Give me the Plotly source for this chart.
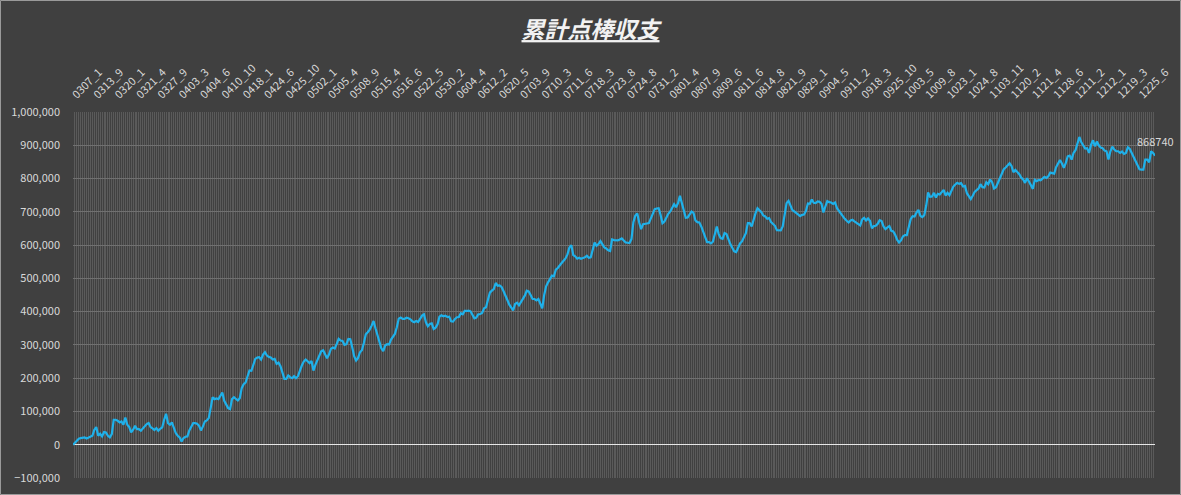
import plotly.graph_objects as go

# x-axis tick labels (every 11th game)
tick_labels = [
    "0307_1", "0313_9", "0320_1", "0321_4", "0327_9", "0403_3", "0404_6", "0410_10",
    "0418_1", "0424_6", "0425_10", "0502_1", "0505_4", "0508_9", "0515_4", "0516_6",
    "0522_5", "0530_2", "0604_4", "0612_2", "0620_5", "0703_9", "0710_3", "0711_6",
    "0718_3", "0723_8", "0724_8", "0731_2", "0801_4", "0807_9", "0809_6", "0811_6",
    "0814_8", "0821_9", "0829_1", "0904_5", "0911_2", "0918_3", "0925_10", "1003_5",
    "1009_8", "1023_1", "1024_8", "1103_11", "1120_2", "1121_4", "1128_6", "1211_2",
    "1212_1", "1219_3", "1225_6",
]
label_step = 11

# cumulative balance
cumulative = [
    0, 7000, 13000, 18000, 20000, 21000, 22000, 19000, 22000, 23000,
    27000, 45000, 53000, 27000, 33000, 25000, 38000, 37000, 27000, 22000,
    32000, 75000, 75000, 72000, 67000, 70000, 60000, 82000, 60000, 53000,
    37000, 45000, 57000, 47000, 47000, 42000, 49000, 55000, 62000, 65000,
    53000, 49000, 44000, 50000, 42000, 48000, 52000, 75000, 93000, 65000,
    60000, 67000, 47000, 35000, 27000, 22000, 10000, 20000, 24000, 25000,
    43000, 55000, 65000, 65000, 63000, 57000, 43000, 55000, 70000, 73000,
    80000, 110000, 143000, 137000, 139000, 137000, 148000, 157000, 132000, 122000,
    110000, 107000, 137000, 143000, 139000, 133000, 140000, 170000, 182000, 187000,
    205000, 223000, 222000, 240000, 258000, 262000,
    263000, 256000, 271000, 278000, 268000, 264000, 262000, 256000, 258000, 243000,
    247000, 236000, 218000, 198000, 198000, 208000, 203000, 200000, 206000, 200000,
    206000, 226000, 238000, 250000, 256000, 251000, 245000, 252000, 223000, 240000,
    253000, 268000, 281000, 284000, 273000, 260000, 271000, 288000, 292000, 289000,
    303000, 318000, 313000, 312000, 300000, 302000, 318000, 317000, 293000, 266000,
    253000, 261000, 278000, 284000, 306000, 332000, 338000, 346000, 358000, 372000,
    350000, 330000, 308000, 290000, 281000, 298000, 302000, 301000, 316000, 326000,
    333000, 353000, 379000, 382000, 378000, 378000, 382000, 380000, 377000, 371000,
    368000, 372000, 369000, 378000, 388000, 392000, 368000, 356000, 363000, 365000,
    348000, 352000, 362000, 385000,
    389000, 386000, 388000, 384000, 385000, 371000, 370000, 378000, 383000, 384000,
    395000, 392000, 402000, 402000, 403000, 401000, 388000, 380000, 382000, 392000,
    393000, 396000, 410000, 413000, 436000, 457000, 463000, 468000, 486000, 478000,
    479000, 474000, 462000, 446000, 435000, 421000, 411000, 404000, 423000, 427000,
    419000, 428000, 440000, 448000, 463000, 461000, 450000, 438000, 438000, 434000,
    438000, 421000, 410000, 450000, 476000, 488000, 498000, 508000, 506000, 526000,
    531000, 537000, 546000, 553000, 560000, 572000, 593000, 600000, 570000, 566000,
    559000, 562000, 559000, 561000, 563000, 568000, 562000, 563000, 588000, 608000,
    598000, 603000, 612000, 600000, 593000, 590000, 584000,
    582000, 617000, 615000, 615000, 614000, 617000, 620000, 614000, 608000, 607000,
    606000, 618000, 669000, 689000, 695000, 668000, 648000, 663000, 665000, 665000,
    666000, 680000, 699000, 708000, 710000, 711000, 691000, 666000, 671000, 684000,
    694000, 701000, 713000, 723000, 714000, 726000, 748000, 726000, 699000, 682000,
    683000, 694000, 701000, 697000, 674000, 669000, 668000, 656000, 638000, 620000,
    609000, 609000, 605000, 610000, 634000, 656000, 633000, 621000, 619000, 636000,
    633000, 615000, 603000, 592000, 581000, 579000, 593000, 605000, 611000, 624000,
    636000, 666000, 666000, 656000, 679000, 696000, 711000, 706000, 699000, 689000,
    686000, 679000, 681000, 669000, 662000, 658000, 645000, 644000, 644000, 656000,
    697000, 726000, 733000, 716000, 705000, 701000, 697000, 693000, 687000,
    691000, 692000, 703000, 725000, 724000, 737000, 727000, 726000, 731000, 730000,
    724000, 698000, 716000, 732000, 729000, 728000, 724000, 728000, 711000, 702000,
    696000, 686000, 679000, 673000, 668000, 674000, 676000, 671000, 668000, 663000,
    659000, 677000, 682000, 674000, 680000, 673000, 651000, 657000, 658000, 664000,
    675000, 672000, 656000, 648000, 653000, 657000, 643000, 641000, 631000, 616000,
    608000, 614000, 626000, 630000, 630000, 653000, 678000, 687000, 686000, 698000,
    706000, 688000, 684000, 690000, 718000, 758000, 745000, 746000, 757000, 743000,
    754000, 752000, 758000, 766000, 749000, 757000, 750000, 766000, 776000, 782000,
    787000, 784000, 786000, 776000, 778000, 756000, 748000, 738000, 748000, 760000,
    765000, 770000,
    783000, 774000, 773000, 789000, 783000, 797000, 789000, 770000, 774000, 789000,
    801000, 817000, 828000, 833000, 840000, 846000, 838000, 819000, 826000, 820000,
    813000, 803000, 797000, 787000, 801000, 791000, 779000, 769000, 796000, 792000,
    796000, 795000, 800000, 805000, 802000, 807000, 818000, 817000, 815000, 834000,
    845000, 856000, 845000, 832000, 847000, 867000, 869000, 857000, 877000, 885000,
    905000, 925000, 909000, 899000, 890000, 891000, 877000, 901000, 915000, 897000,
    911000, 900000, 893000, 891000, 884000, 882000, 857000, 882000, 896000, 887000,
    882000, 882000, 877000, 881000, 874000, 877000, 894000, 889000, 877000, 867000,
    850000, 840000, 828000, 827000, 827000, 857000, 857000, 849000, 882000, 877000,
    868740,
]

y_ticks = [-100000, 0, 100000, 200000, 300000, 400000, 500000, 600000, 700000, 800000, 900000, 1000000]

games = list(range(len(cumulative)))
tick_positions = [k * label_step for k in range(len(tick_labels))]

FONT = "Noto Sans CJK JP, Noto Sans, sans-serif"
TXT = "#d9d9d9"

fig = go.Figure()
fig.add_trace(go.Scatter(
    x=games, y=cumulative, mode="lines",
    line=dict(color="#1fb1ea", width=2.2),
    hoverinfo="skip", showlegend=False,
))

last_x = games[-1]
last_y = cumulative[-1]
fig.add_annotation(
    x=last_x, y=last_y, text=str(last_y), showarrow=False,
    yshift=15, xanchor="center",
    font=dict(family=FONT, size=11, color=TXT),
)

W, H = 1181, 495
ML, MR, MT, MB = 73, 26, 112, 17
PW, PH = W - ML - MR, H - MT - MB
fig.add_shape(
    type="rect", xref="paper", yref="paper",
    x0=(0.5 - ML) / PW, x1=(W - 0.5 - ML) / PW,
    y0=-(MB - 0.5) / PH, y1=1 + (MT - 0.5) / PH,
    line=dict(color="#9a9a9a", width=1), fillcolor="rgba(0,0,0,0)", layer="above",
)

fig.update_layout(
    width=W, height=H,
    margin=dict(l=ML, r=MR, t=MT, b=MB, autoexpand=False),
    paper_bgcolor="#404040", plot_bgcolor="#404040",
    font=dict(family=FONT, color=TXT, size=11),
    title=dict(
        text="<b><i><u>累計点棒収支</u></i></b>",
        x=0.5, xref="container", xanchor="center",
        y=1 - 30 / H, yref="container", yanchor="middle",
        font=dict(family=FONT, size=23, color="#f2f2f2"),
    ),
    xaxis=dict(
        range=[0, len(cumulative) - 1], side="top", automargin=False,
        tickmode="array", tickvals=tick_positions, ticktext=tick_labels,
        tickangle=-45, tickfont=dict(family=FONT, size=11, color=TXT),
        showgrid=True, gridcolor="#5a5a5a", gridwidth=1,
        minor=dict(tickmode="linear", tick0=0, dtick=1, showgrid=True,
                   gridcolor="#5a5a5a", gridwidth=1),
        zeroline=False, showline=False, ticks="", ticklabelstandoff=8,
    ),
    yaxis=dict(
        range=[-100000, 1000000], tickmode="array", tickvals=y_ticks, automargin=False,
        tickformat=",d", tickfont=dict(family=FONT, size=11, color=TXT),
        showgrid=True, gridcolor="#707070", gridwidth=1,
        zeroline=True, zerolinecolor="#e6e6e6", zerolinewidth=1.5,
        showline=False, ticks="", ticklabelstandoff=12,
    ),
)

fig.write_html(
    "out.html",
    config={"displayModeBar": False, "staticPlot": True},
    post_script="document.body.style.margin='0';document.body.style.overflow='hidden';",
)
